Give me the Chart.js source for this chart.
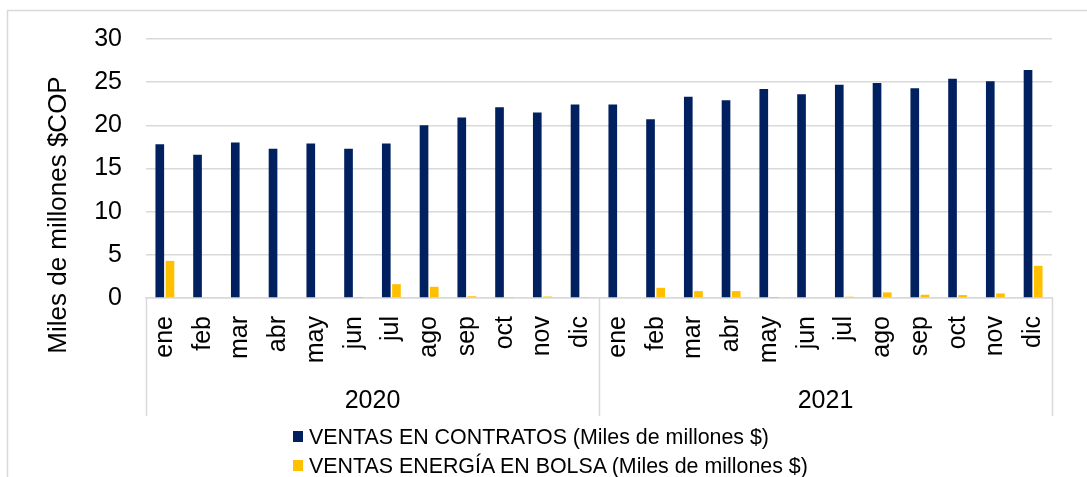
<!DOCTYPE html>
<html>
<head>
<meta charset="utf-8">
<script src="https://cdn.jsdelivr.net/npm/chart.js@4.4.1/dist/chart.umd.min.js"></script>
<style>
  html, body { margin: 0; padding: 0; background: #fff; }
  #wrap { position: relative; width: 1087px; height: 477px; overflow: hidden; }
  #legend { position: absolute; left: 293px; top: 423px; font-family: "Liberation Sans", Arial, sans-serif; font-size: 21.4px; color: #000; }
  .item { height: 29px; line-height: 29px; white-space: nowrap; }
  .box { display: inline-block; width: 10px; height: 11px; margin-right: 6px; vertical-align: middle; position: relative; top: -2px; }
</style>
</head>
<body>
<div id="wrap">
  <canvas id="grafico" width="1087" height="477"></canvas>
  <div id="legend"></div>
</div>
<script>
// Datos del grafico
const meses = ['ene', 'feb', 'mar', 'abr', 'may', 'jun', 'jul', 'ago', 'sep', 'oct', 'nov', 'dic'];
const anios = ['2020', '2021'];

// ventas en contratos, ene 2020 -> dic 2021
const contratos = [17.8, 16.6, 18.0, 17.3, 17.9, 17.3, 17.9, 20.0, 20.9, 22.1, 21.5, 22.4,
                   22.4, 20.7, 23.3, 22.9, 24.2, 23.6, 24.7, 24.9, 24.3, 25.4, 25.1, 26.4];
// ventas energia en bolsa
const bolsa = [4.3, 0, 0, 0, 0, 0.02, 1.6, 1.3, 0.2, 0.05, 0.17, 0.05,
               0.08, 1.18, 0.8, 0.8, 0.01, 0.08, 0.15, 0.65, 0.38, 0.34, 0.53, 3.73];

const nombres = ['VENTAS EN CONTRATOS (Miles de millones $)', 'VENTAS ENERGÍA EN BOLSA (Miles de millones $)'];
const tituloY = 'Miles de millones $COP';
const yMin = 0, yMax = 30, yPaso = 5;

const etiquetas = anios.flatMap(() => meses);
const fuente = "'Liberation Sans', Arial, sans-serif";
Chart.defaults.font.family = fuente;
Chart.defaults.color = '#000';

// ejes de dos niveles + marco + titulo del eje y
const ejes = {
  id: 'ejes',
  beforeDraw(chart) {
    const ctx = chart.ctx;
    ctx.save();
    ctx.strokeStyle = '#d9d9d9';
    ctx.lineWidth = 1.5;
    ctx.strokeRect(7.5, 10.5, 2000, 2000);
    ctx.restore();
  },
  afterDraw(chart) {
    const ctx = chart.ctx;
    const x = chart.scales.x;
    const area = chart.chartArea;
    const n = meses.length;
    ctx.save();
    ctx.strokeStyle = '#d9d9d9';
    ctx.lineWidth = 1.5;
    const lineas = [area.left];
    for (let g = 1; g < anios.length; g++) {
      lineas.push((x.getPixelForValue(g * n - 1) + x.getPixelForValue(g * n)) / 2);
    }
    lineas.push(area.right);
    lineas.forEach(px => {
      ctx.beginPath();
      ctx.moveTo(Math.round(px) + 0.5, area.bottom);
      ctx.lineTo(Math.round(px) + 0.5, 416);
      ctx.stroke();
    });

    ctx.fillStyle = '#000';
    ctx.font = '25px ' + fuente;
    ctx.textAlign = 'center';
    ctx.textBaseline = 'middle';
    anios.forEach((a, g) => {
      const cx = (x.getPixelForValue(g * n) + x.getPixelForValue(g * n + n - 1)) / 2;
      ctx.fillText(a, cx, 401);
    });

    // titulo eje y
    ctx.translate(59, 215);
    ctx.rotate(-Math.PI / 2);
    ctx.font = '26px ' + fuente;
    ctx.fillText(tituloY, 0, 0);
    ctx.restore();
  }
};

const grafico = new Chart(document.getElementById('grafico'), {
  type: 'bar',
  data: {
    labels: etiquetas,
    datasets: [
      { label: nombres[0], data: contratos, backgroundColor: '#002060' },
      { label: nombres[1], data: bolsa, backgroundColor: '#FFC000' }
    ]
  },
  options: {
    responsive: false,
    devicePixelRatio: 1,
    animation: false,
    categoryPercentage: 0.54,
    barPercentage: 0.85,
    layout: { padding: { top: 37, right: 35, left: 0, bottom: 0 } },
    plugins: { legend: { display: false }, tooltip: { enabled: false } },
    scales: {
      x: {
        grid: { display: false, drawTicks: false },
        border: { display: true, color: '#d9d9d9', width: 1.5 },
        ticks: { autoSkip: false, minRotation: 90, maxRotation: 90, padding: 18, font: { size: 25 } },
        afterFit: s => { s.height = 179; }
      },
      y: {
        min: yMin, max: yMax,
        grid: { color: '#d9d9d9', lineWidth: 1.5, drawTicks: false },
        border: { display: false },
        ticks: { stepSize: yPaso, padding: 24, font: { size: 25 } },
        afterFit: s => { s.width = 146; }
      }
    }
  },
  plugins: [ejes]
});

// leyenda
const leyenda = document.getElementById('legend');
grafico.data.datasets.forEach(ds => {
  const fila = document.createElement('div');
  fila.className = 'item';
  const caja = document.createElement('span');
  caja.className = 'box';
  caja.style.background = ds.backgroundColor;
  fila.appendChild(caja);
  fila.appendChild(document.createTextNode(ds.label));
  leyenda.appendChild(fila);
});
</script>
</body>
</html>
